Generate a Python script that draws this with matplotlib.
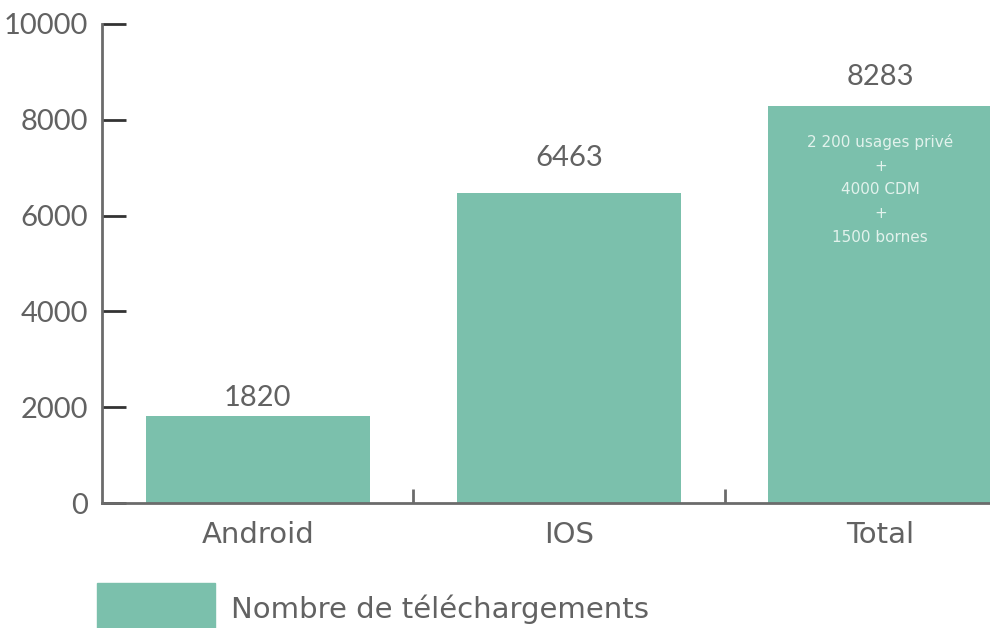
import matplotlib
matplotlib.use("Agg")
import matplotlib.pyplot as plt
from matplotlib.patches import Rectangle

# data
categories = ["Android", "IOS", "Total"]
downloads = [1820, 6463, 8283]
label_offsets = [5, 22, 16]  # px above bar top, as in the original
total_detail = ["2 200 usages privé", "+", "4000 CDM", "+", "1500 bornes"]
legend_label = "Nombre de téléchargements"
y_ticks = [0, 2000, 4000, 6000, 8000, 10000]

bar_color = "#7bc0ac"
text_color = "#626262"
axis_color = "#6b6b6b"

num_font = ["Lato", "DejaVu Sans"]
word_font = ["DejaVu Sans"]
plt.rcParams["font.family"] = num_font


def main():
    fig = plt.figure(figsize=(9.9, 6.28), dpi=100)
    ax = fig.add_axes([102 / 990, 125 / 628, 934 / 990, 479 / 628])

    x = list(range(len(categories)))
    bars = ax.bar(x, downloads, width=0.72, color=bar_color, zorder=2)

    ax.set_xlim(-0.5, 2.5)
    ax.set_ylim(0, 10000)
    ax.set_yticks(y_ticks)
    ax.set_yticklabels([str(t) for t in y_ticks], fontsize=21, color=text_color,
                       family=num_font)
    ax.set_xticks(x)
    ax.set_xticklabels(categories, fontsize=21, color=text_color, family=word_font)
    ax.tick_params(axis="x", length=0, pad=13)
    ax.tick_params(axis="y", direction="in", length=17, width=2, color="#333333", pad=10)
    # separators between categories on the x axis
    ax.set_xticks([0.5, 1.5], minor=True)
    ax.tick_params(axis="x", which="minor", direction="in", length=10, width=2,
                   color=axis_color)

    for side in ["top", "right"]:
        ax.spines[side].set_visible(False)
    for side in ["left", "bottom"]:
        ax.spines[side].set_color(axis_color)
        ax.spines[side].set_linewidth(2)

    # value labels
    for b, v, off in zip(bars, downloads, label_offsets):
        ax.annotate(str(v), (b.get_x() + b.get_width() / 2, v),
                    xytext=(0, off * 0.72), textcoords="offset points",
                    ha="center", va="bottom", fontsize=21, color=text_color,
                    family=num_font)

    # detail inside the Total bar
    tb = bars[2]
    ax.annotate("\n".join(total_detail), (tb.get_x() + tb.get_width() / 2, downloads[2]),
                xytext=(0, -20), textcoords="offset points", ha="center", va="top",
                fontsize=11, color="#e2f2ec", family=word_font, linespacing=1.72)

    # legend drawn by hand, as in the original
    fig.patches.append(Rectangle((97 / 990, 0), 118 / 990, 45 / 628,
                                 transform=fig.transFigure, color=bar_color))
    fig.text(231 / 990, 4 / 628, legend_label, fontsize=21, color=text_color,
             family=word_font, ha="left", va="bottom")

    fig.savefig("out.png", dpi=100)


if __name__ == "__main__":
    main()
